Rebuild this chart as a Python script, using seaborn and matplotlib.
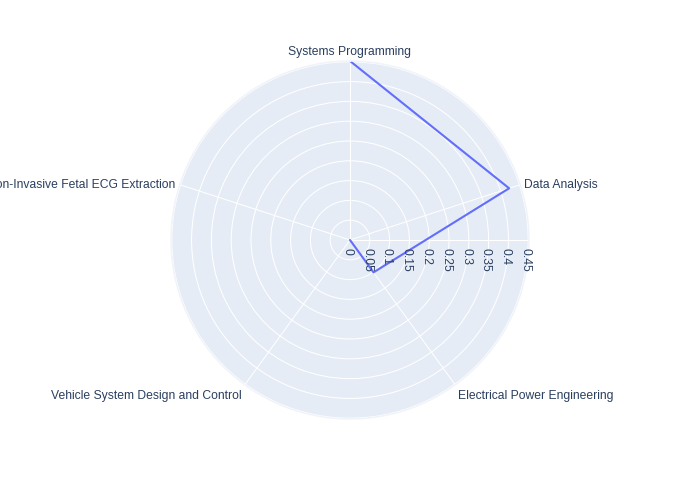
import numpy as np
import pandas as pd
import matplotlib
matplotlib.use("Agg")
import matplotlib.pyplot as plt
import seaborn as sns

categories = ["Systems Programming", "Data Analysis", "Electrical Power Engineering",
              "Vehicle System Design and Control", "Non-Invasive Fetal ECG Extraction"]
values = [0.452, 0.4225, 0.101, 0.0, 0.0]
rticks = [0, 0.05, 0.1, 0.15, 0.2, 0.25, 0.3, 0.35, 0.4, 0.45]
rtick_labels = ["0", "0.05", "0.1", "0.15", "0.2", "0.25", "0.3", "0.35", "0.4", "0.45"]
rmax = 0.452

sns.set_theme(style="white")
plt.rcParams["font.family"] = ["Liberation Sans", "DejaVu Sans"]
text_color = "#2a3f5f"
fs = 8.7

fig = plt.figure(figsize=(7, 5), dpi=100)
cx, cy, rad = 0.5, 0.52, 179
w, h = rad / 700, rad / 500
ax = fig.add_axes([cx - w, cy - h, 2 * w, 2 * h], projection="polar")
ax.set_theta_zero_location("N")
ax.set_theta_direction(-1)
ax.set_facecolor("#E5ECF6")

n = len(categories)
theta = np.arange(n) * 2 * np.pi / n
df = pd.DataFrame({"theta": np.append(theta, theta[0]), "r": values + [values[0]]})
sns.lineplot(data=df, x="theta", y="r", sort=False, ax=ax, color="#636efa", linewidth=1.5)
ax.set_xlabel("")
ax.set_ylabel("")

ax.set_ylim(0, rmax)
ax.set_yticks(rticks)
ax.set_yticklabels([])
ax.set_xticks(theta)
ax.set_xticklabels([])
ax.grid(True, color="white", linewidth=0.75)
ax.spines["polar"].set_color("#f0f3f9")
ax.spines["polar"].set_linewidth(1)
ax.tick_params(length=0)

# radial axis line (east)
ax.plot([np.pi / 2, np.pi / 2], [0, rmax], color="white", linewidth=0.75, zorder=1)

for r, lab in zip(rticks, rtick_labels):
    ax.annotate(lab, xy=(np.pi / 2, r), xytext=(-2, -6), textcoords="offset points",
                rotation=-90, ha="center", va="top", fontsize=fs, color=text_color,
                annotation_clip=False)

aligns = [("center", "bottom", (0, 2)), ("left", "center", (3, 0)),
          ("left", "top", (2, -4)), ("right", "top", (-2, -4)), ("right", "center", (-3, 0))]
for t, lab, (ha, va, off) in zip(theta, categories, aligns):
    ax.annotate(lab, xy=(t, rmax), xytext=off, textcoords="offset points",
                ha=ha, va=va, fontsize=fs, color=text_color, annotation_clip=False)

fig.savefig("out.png", dpi=100)
